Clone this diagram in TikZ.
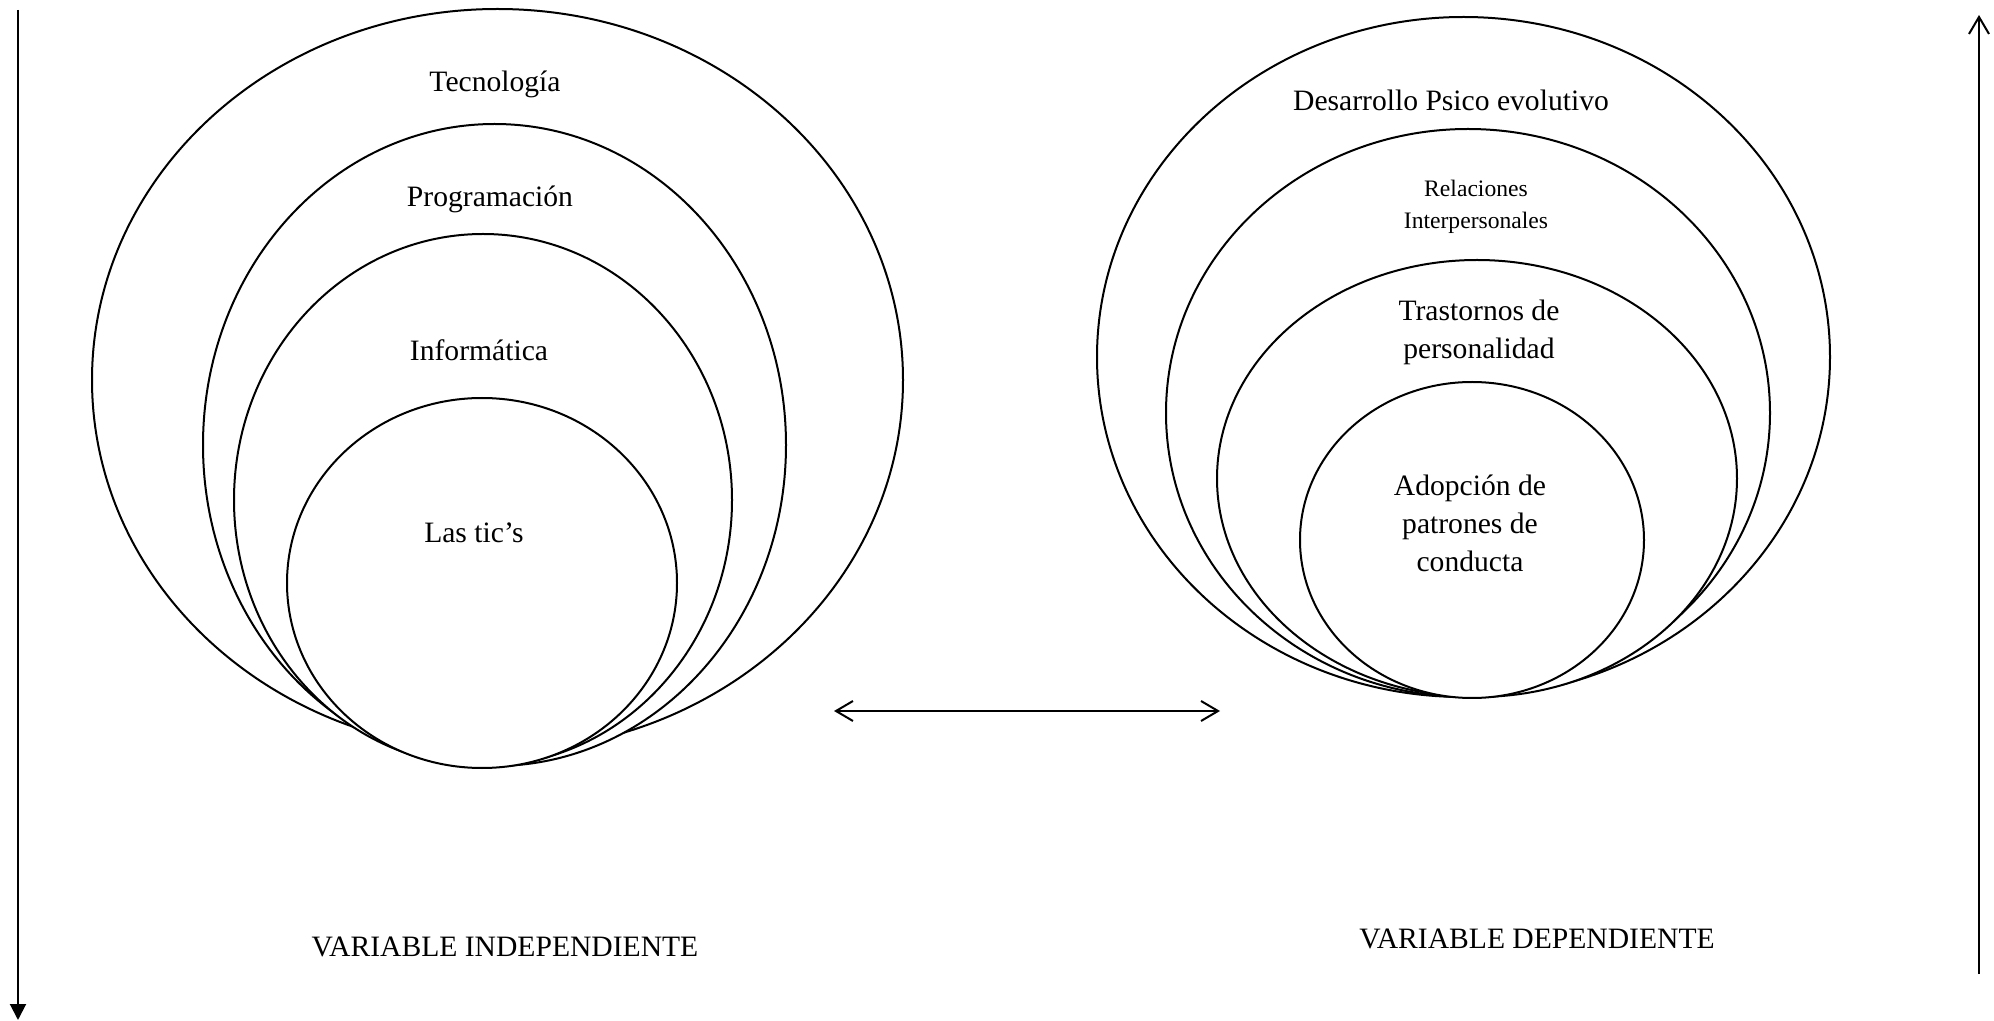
\documentclass[tikz,border=0pt]{standalone}
\usepackage{fontspec}
\setmainfont{Liberation Serif}
\usetikzlibrary{shapes.geometric,arrows.meta}
\begin{document}
\begin{tikzpicture}[x=0.5pt,y=-0.5pt,
  ring/.style={draw,ellipse,fill=white,line width=1pt,inner sep=0pt},
  lbl/.style={font=\fontsize{14.8}{19}\selectfont,align=center,inner sep=0pt},
  smalllbl/.style={font=\fontsize{11.8}{16}\selectfont,align=center,inner sep=0pt},
  conn/.style={line width=1pt},
  barbtip/.tip={Straight Barb[length=8.5pt,width=10pt,line width=1pt]}]
\useasboundingbox (0,0) rectangle (1994,1021);
% left group
\node[ring,minimum width=405.5pt,minimum height=371pt] (tec) at (497.5,380) {};
\node[ring,minimum width=291.5pt,minimum height=321pt] (prog) at (494.5,445) {};
\node[ring,minimum width=249pt,minimum height=266pt] (inf) at (483,500) {};
\node[ring,minimum width=195pt,minimum height=185pt] (tic) at (482,583) {};
\node[lbl] (ttec) at (495,84) {Tecnología};
\node[lbl] (tprog) at (490,199) {Programación};
\node[lbl] (tinf) at (479,350) {Informática};
\node[lbl] (ttic) at (474,533) {Las tic’s};
\node[lbl] (vi) at (505,947) {VARIABLE INDEPENDIENTE};
% right group
\node[ring,minimum width=366.5pt,minimum height=340pt] (des) at (1463.5,357) {};
\node[ring,minimum width=302pt,minimum height=284pt] (rel) at (1468,413) {};
\node[ring,minimum width=260pt,minimum height=218.5pt] (tra) at (1477,478.5) {};
\node[ring,minimum width=172pt,minimum height=158pt] (ado) at (1472,540) {};
\node[lbl] (tdes) at (1451,100) {Desarrollo Psico evolutivo};
\node[smalllbl] (trel) at (1476,207) {Relaciones\\Interpersonales};
\node[lbl] (ttra) at (1479,332) {Trastornos de\\personalidad};
\node[lbl] (tado) at (1470,523) {Adopción de\\patrones de\\conducta};
\node[lbl] (vd) at (1537,939) {VARIABLE DEPENDIENTE};
% arrows
\coordinate (Ltop) at (18,10);
\coordinate (Lbot) at (18,1020);
\draw[conn,-{Triangle[length=8pt,width=8pt]}] (Ltop) -- (Lbot);
\coordinate (Rbot) at (1979,974);
\coordinate (Rtop) at (1979,15);
\draw[conn,-barbtip] (Rbot) -- (Rtop);
\coordinate (Mleft) at (834,711);
\coordinate (Mright) at (1220,711);
\draw[conn,barbtip-barbtip] (Mleft) -- (Mright);
\end{tikzpicture}
\end{document}
